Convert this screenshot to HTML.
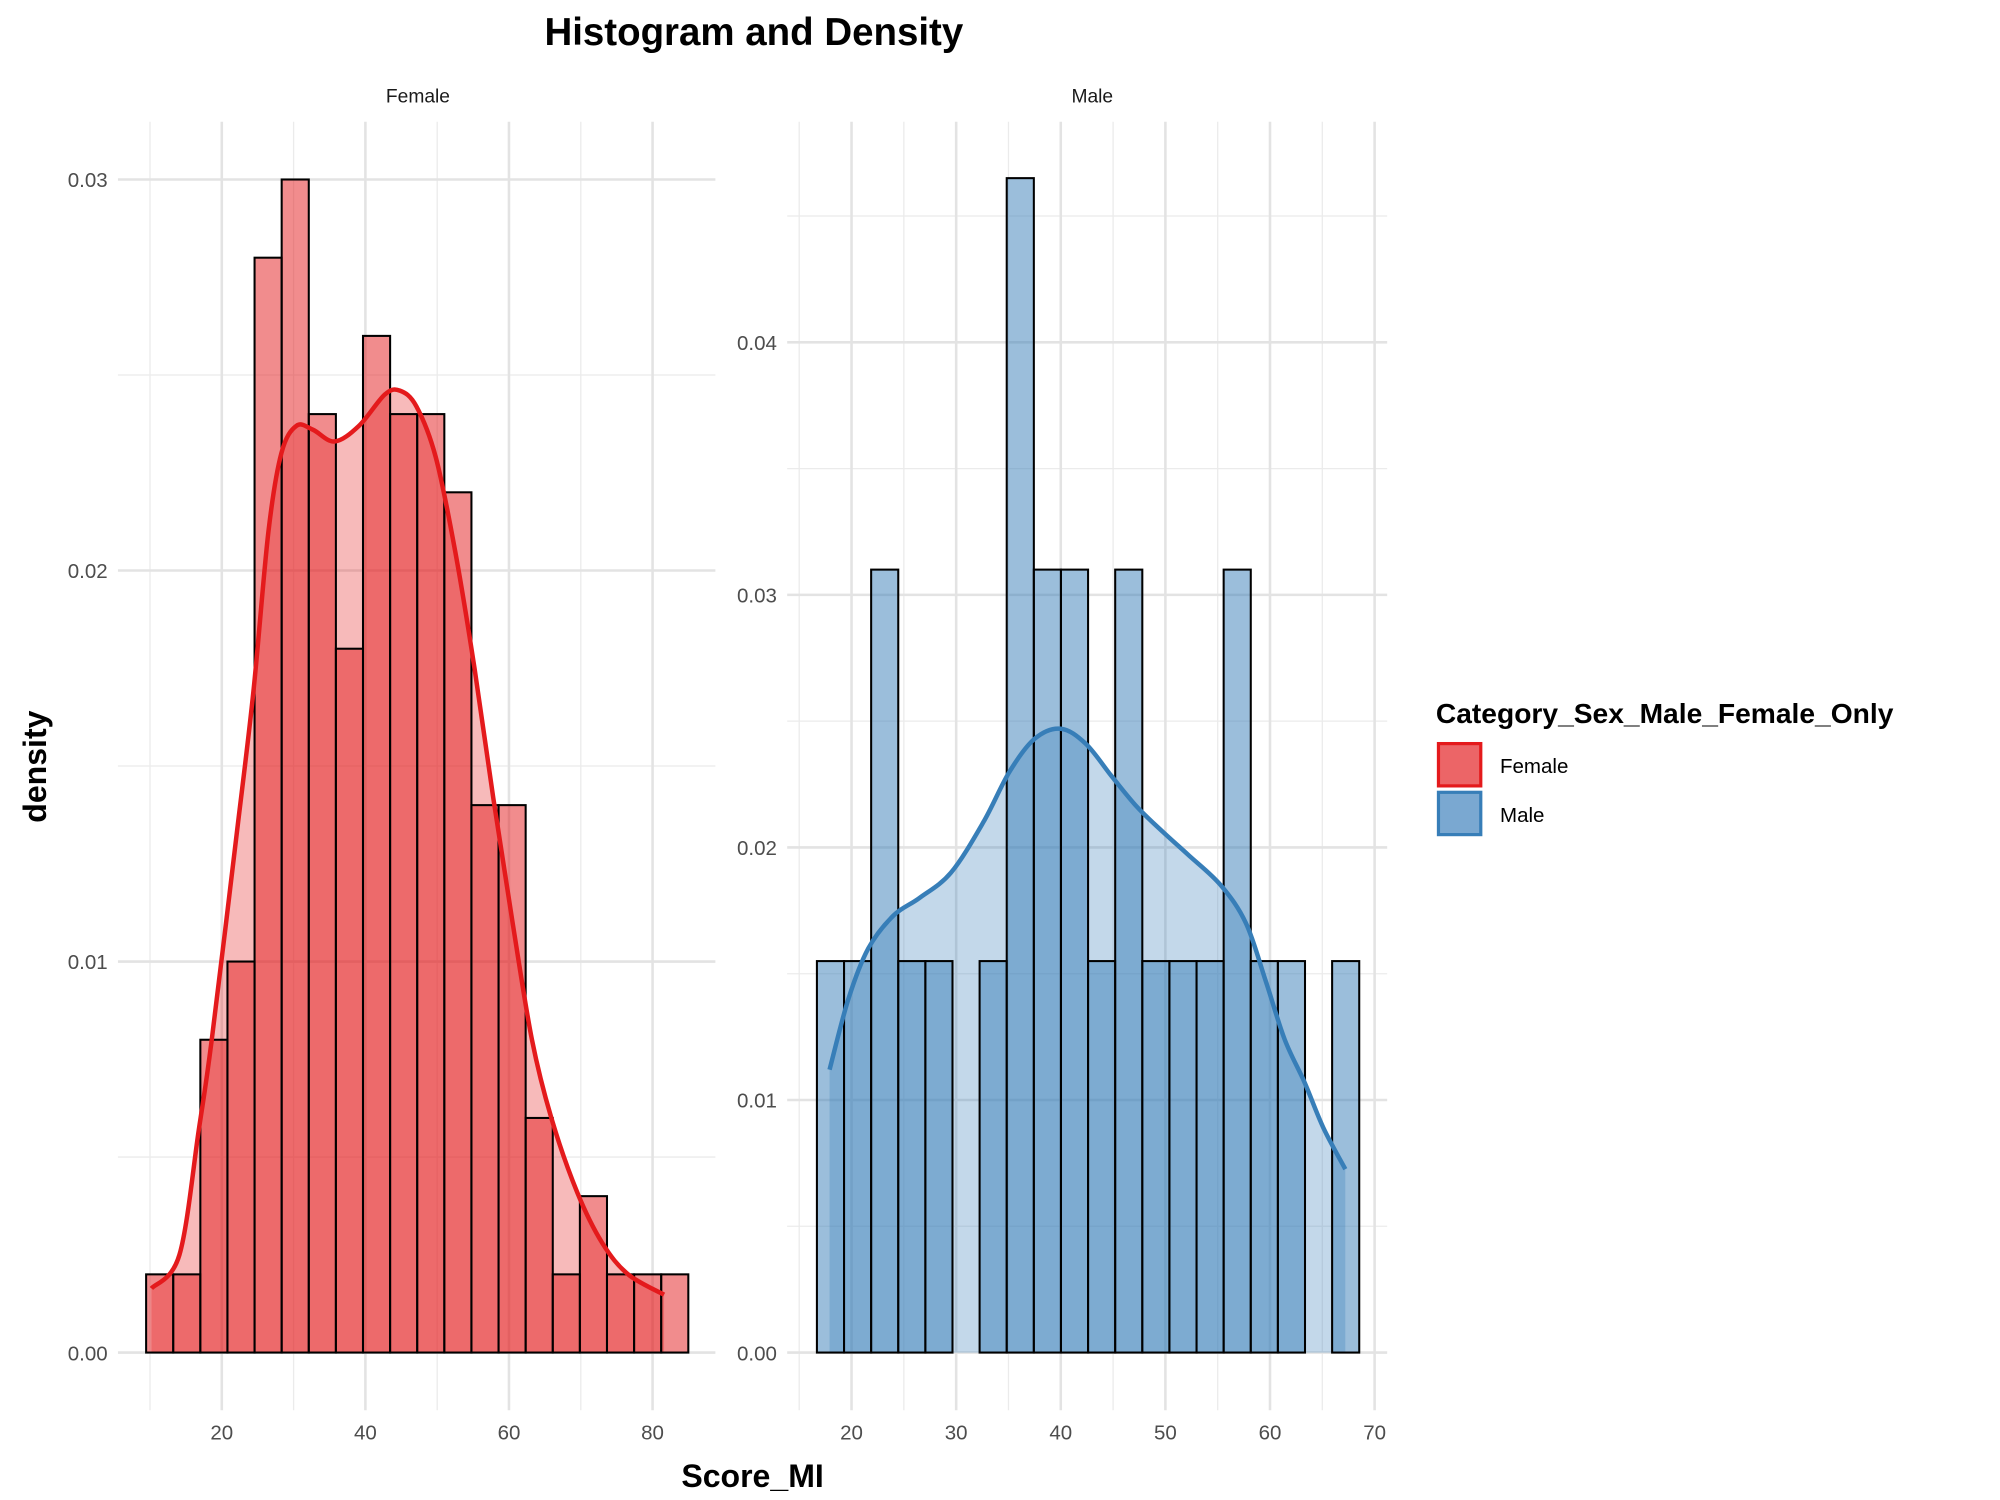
<!DOCTYPE html>
<html><head><meta charset="utf-8"><style>html,body{margin:0;padding:0;background:#fff}svg{display:block}text{font-family:"Liberation Sans",sans-serif}</style></head>
<body>
<svg id="chart" width="2000" height="1500" viewBox="0 0 1560 1170" xmlns="http://www.w3.org/2000/svg">
<text x="588" y="35" text-anchor="middle" font-size="30" font-weight="bold">Histogram and Density</text>
<text x="326" y="80" text-anchor="middle" font-size="15" fill="#1a1a1a">Female</text>
<text x="852" y="80" text-anchor="middle" font-size="15" fill="#1a1a1a">Male</text>
<text transform="translate(36,598) rotate(-90)" text-anchor="middle" font-size="25" font-weight="bold">density</text>
<text x="587" y="1160" text-anchor="middle" font-size="25" font-weight="bold">Score_MI</text>
<g id="pf"></g>
<g id="pm"></g>
<g>
<text x="1120" y="564" font-size="22" font-weight="bold">Category_Sex_Male_Female_Only</text>
<rect x="1122" y="580" width="33" height="33" fill="#ec6567" stroke="#E41A1C" stroke-width="2.5"/>
<text x="1170" y="603" font-size="16">Female</text>
<rect x="1122" y="618" width="33" height="33" fill="#7aa8d1" stroke="#377EB8" stroke-width="2.5"/>
<text x="1170" y="641" font-size="16">Male</text>
</g>
</svg>
<script>
const femaleBinStart = 9.46, femaleBinWidth = 3.776;
const femaleDensityHist = [0.002,0.002,0.008,0.010,0.028,0.030,0.024,0.018,0.026,0.024,0.024,0.022,0.014,0.014,0.006,0.002,0.004,0.002,0.002,0.002];
const femaleKdeX = [10.2,14.1,16.8,18.6,22.1,24.4,26.5,28.3,30.4,32.7,35.7,39.1,42.7,44.8,47.1,49.8,52.5,55.2,57.8,60.5,63.2,65.9,69.5,73.0,76.6,81.6];
const femaleKdeY = [0.00164,0.0025,0.0057,0.008,0.0133,0.0169,0.0210,0.0230,0.0237,0.0236,0.0233,0.0237,0.0245,0.0246,0.0242,0.0229,0.0205,0.0175,0.0142,0.0110,0.0080,0.0060,0.0041,0.0028,0.0020,0.00148];
const maleBinStart = 16.69, maleBinWidth = 2.592;
const maleDensityHist = [0.0155,0.0155,0.031,0.0155,0.0155,0,0.0155,0.0465,0.031,0.031,0.0155,0.031,0.0155,0.0155,0.0155,0.031,0.0155,0.0155,0,0.0155];
const maleKdeX = [17.9,19.7,21.6,24.0,26.5,29.5,32.6,35.1,37.5,40.0,42.4,44.9,47.3,49.8,52.2,55.3,57.7,59.6,61.4,63.3,65.1,67.2];
const maleKdeY = [0.0112,0.0140,0.0160,0.0173,0.0180,0.0190,0.0210,0.0230,0.0243,0.0247,0.0241,0.0228,0.0216,0.0206,0.0197,0.0185,0.0170,0.0147,0.0124,0.0107,0.0089,0.00726];
const femaleXTicks = [20,40,60,80], femaleYTicks = [0,0.01,0.02,0.03];
const maleXTicks = [20,30,40,50,60,70], maleYTicks = [0,0.01,0.02,0.03,0.04];

const NS='http://www.w3.org/2000/svg';
function mk(parent,tag,attrs){const e=document.createElementNS(NS,tag);for(const k in attrs)e.setAttribute(k,attrs[k]);parent.appendChild(e);return e;}
function smooth(pts){
  let d='M'+pts[0][0]+','+pts[0][1];
  for(let i=0;i<pts.length-1;i++){
    const p0=pts[Math.max(i-1,0)],p1=pts[i],p2=pts[i+1],p3=pts[Math.min(i+2,pts.length-1)];
    const c1=[p1[0]+(p2[0]-p0[0])/6,p1[1]+(p2[1]-p0[1])/6];
    const c2=[p2[0]-(p3[0]-p1[0])/6,p2[1]-(p3[1]-p1[1])/6];
    d+=' C'+c1[0]+','+c1[1]+' '+c2[0]+','+c2[1]+' '+p2[0]+','+p2[1];
  }
  return d;
}
function panel(g,cfg){
  const sx=v=>cfg.x0+v*cfg.kx, sy=v=>cfg.y0-v*cfg.ky;
  const xs=cfg.xTicks, ys=cfg.yTicks;
  const dx=xs[1]-xs[0], dy=ys[1]-ys[0];
  for(let v=xs[0]-dx/2; v<=xs[xs.length-1]+dx/2+1e-9; v+=dx){const px=sx(v); if(px<cfg.left||px>cfg.right)continue;
    const l=mk(g,'line',{x1:px,x2:px,y1:cfg.top,y2:cfg.bottom,stroke:'#ebebeb','stroke-width':1});
    
    }
  for(let v=ys[0]+dy/2; sy(v)>=cfg.top; v+=dy){
    const l=mk(g,'line',{x1:cfg.left,x2:cfg.right,y1:sy(v),y2:sy(v),stroke:'#ebebeb','stroke-width':1});
    
    }
  xs.forEach(v=>{const l=mk(g,'line',{x1:sx(v),x2:sx(v),y1:cfg.top,y2:cfg.bottom,stroke:'#e3e3e3','stroke-width':2});
    
    
    const t=mk(g,'text',{x:sx(v),y:cfg.bottom+23,'text-anchor':'middle','font-size':16,fill:'#4d4d4d'});t.textContent=v;
    
    });
  ys.forEach(v=>{const l=mk(g,'line',{x1:cfg.left,x2:cfg.right,y1:sy(v),y2:sy(v),stroke:'#e3e3e3','stroke-width':2});
    
    
    const t=mk(g,'text',{x:cfg.left-8,y:sy(v)+6,'text-anchor':'end','font-size':16,fill:'#4d4d4d'});t.textContent=v.toFixed(2);
    
    });
  const pts=cfg.kx_.map((x,i)=>[sx(x),sy(cfg.ky_[i])]);
  const curve=smooth(pts);
  const a=mk(g,'path',{d:curve+' L'+pts[pts.length-1][0]+','+sy(0)+' L'+pts[0][0]+','+sy(0)+' Z',fill:cfg.color,'fill-opacity':0.3,stroke:'none'});
  
  
  cfg.hist.forEach((h,i)=>{const x1=sx(cfg.bs+i*cfg.bw),x2=sx(cfg.bs+(i+1)*cfg.bw);
    const r=mk(g,'rect',{x:x1,y:sy(h),width:x2-x1,height:sy(0)-sy(h),fill:cfg.color,'fill-opacity':0.5,stroke:'#000','stroke-width':1.6});
    
    });
  const ln=mk(g,'path',{d:curve,fill:'none',stroke:cfg.color,'stroke-width':3.5,'stroke-linejoin':'round','stroke-linecap':'butt'});
  
  
}
panel(document.getElementById('pf'),{x0:61,kx:5.6,y0:1055,ky:30500,left:92,right:558,top:95,bottom:1100,xTicks:femaleXTicks,yTicks:femaleYTicks,hist:femaleDensityHist,bs:femaleBinStart,bw:femaleBinWidth,kx_:femaleKdeX,ky_:femaleKdeY,color:'#E41A1C'});
panel(document.getElementById('pm'),{x0:501,kx:8.16,y0:1055,ky:19700,left:614,right:1082,top:95,bottom:1100,xTicks:maleXTicks,yTicks:maleYTicks,hist:maleDensityHist,bs:maleBinStart,bw:maleBinWidth,kx_:maleKdeX,ky_:maleKdeY,color:'#377EB8'});
</script>
</body></html>
